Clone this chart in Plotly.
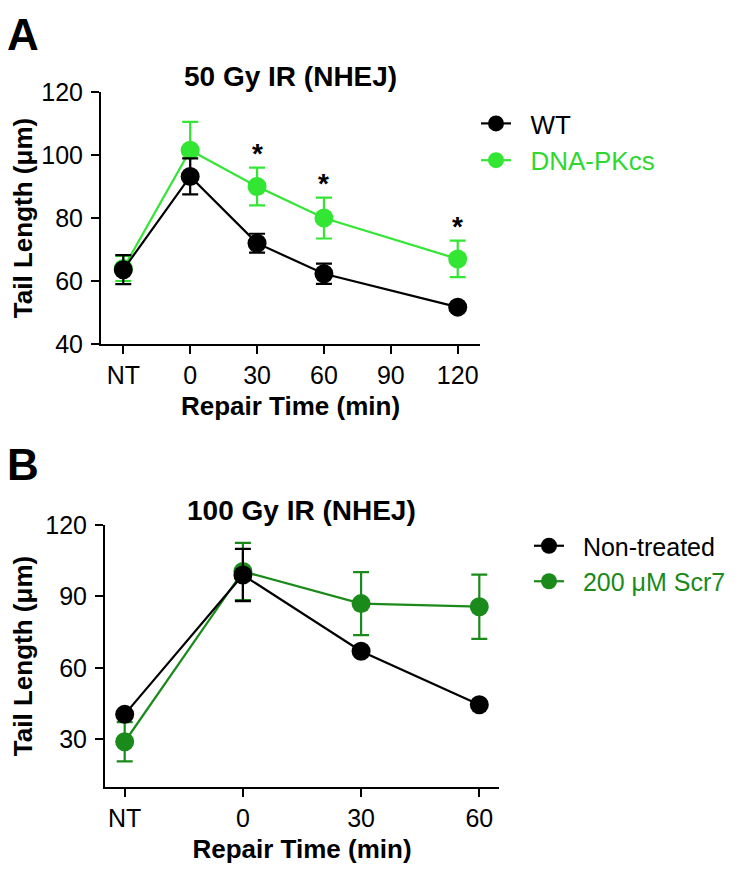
import plotly.graph_objects as go

# ---------------- data ----------------
time_a = [-30, 0, 30, 60, 120]
tickvals_a = [-30, 0, 30, 60, 90, 120]
ticktext_a = ["NT", "0", "30", "60", "90", "120"]
wt_mean = [63.6, 93.2, 72.0, 62.3, 51.7]
wt_err = [4.6, 5.7, 3.0, 3.2, 1.0]
pk_mean = [64.0, 101.5, 90.0, 80.0, 67.0]
pk_err = [4.0, 9.0, 6.0, 6.5, 5.8]
star_x = [30, 60, 120]

time_b = [-30, 0, 30, 60]
tickvals_b = [-30, 0, 30, 60]
ticktext_b = ["NT", "0", "30", "60"]
nt_mean = [40.5, 99.0, 67.0, 44.5]
nt_err = [1.0, 11.0, 1.0, 1.0]
scr_mean = [29.0, 100.5, 87.0, 85.7]
scr_err = [8.2, 12.0, 13.2, 13.5]

# ---------------- layout helpers ----------------
W, H = 750, 882
OFF = 8  # page body margin
def px(x):
    return (x - OFF) / W
def py(y):
    return 1 - (y - OFF) / H

FONT = "Arial, 'Liberation Sans', sans-serif"
BLACK = "#000000"
LIME = "#33e633"
DKGREEN = "#1a8a1a"
NB = "\u00a0\u00a0"

fig = go.Figure()

def add_series(x, y, e, color, name, xa, ya, legend, rank):
    fig.add_trace(go.Scatter(
        x=x, y=y, mode="lines+markers", name=name,
        line=dict(color=color, width=2.2),
        marker=dict(color=color, size=19),
        error_y=dict(type="data", array=e, visible=True, color=color,
                     thickness=2.2, width=8),
        xaxis=xa, yaxis=ya, legend=legend, legendrank=rank,
    ))

# green first so black is on top
add_series(time_a, pk_mean, pk_err, LIME,
           NB + '<span style="color:%s">DNA-PKcs</span>' % "#2fd82f", "x", "y", "legend", 2)
add_series(time_a, wt_mean, wt_err, BLACK, NB + "WT", "x", "y", "legend", 1)
add_series(time_b, scr_mean, scr_err, DKGREEN,
           NB + '<span style="color:%s">200 μM Scr7</span>' % DKGREEN, "x2", "y2", "legend2", 2)
add_series(time_b, nt_mean, nt_err, BLACK, NB + "Non-treated", "x2", "y2", "legend2", 1)

axis_common = dict(
    showline=True, linecolor=BLACK, linewidth=2,
    ticks="outside", ticklen=8, tickwidth=2, tickcolor=BLACK,
    showgrid=False, zeroline=False, mirror=False, automargin=False,
    tickfont=dict(family=FONT, size=25, color=BLACK),
    title_font=dict(family=FONT, size=26, color=BLACK),
)

fig.update_layout(
    width=W, height=H, autosize=False,
    margin=dict(l=0, r=0, t=0, b=0, pad=0, autoexpand=False),
    paper_bgcolor="white", plot_bgcolor="white",
    font=dict(family=FONT, color=BLACK),
    xaxis=dict(domain=[px(101), px(480)], range=[-40, 130],
               tickvals=tickvals_a, ticktext=ticktext_a, anchor="y",
               title=dict(text="<b>Repair Time (min)</b>", standoff=9), **axis_common),
    yaxis=dict(domain=[py(344), py(92)], range=[40, 120],
               tickvals=[40, 60, 80, 100, 120], anchor="x", ticklabelstandoff=3,
               title=dict(text="<b>Tail Length (μm)</b>", standoff=9), **axis_common),
    xaxis2=dict(domain=[px(105), px(499)], range=[-35, 65],
                tickvals=tickvals_b, ticktext=ticktext_b, anchor="y2",
                title=dict(text="<b>Repair Time (min)</b>", standoff=9), **axis_common),
    yaxis2=dict(domain=[py(787), py(525)], range=[10, 120],
                tickvals=[30, 60, 90, 120], anchor="x2", ticklabelstandoff=3,
                title=dict(text="<b>Tail Length (μm)</b>", standoff=9), **axis_common),
    legend=dict(x=px(476), y=py(100), xanchor="left", yanchor="top",
                font=dict(family=FONT, size=26, color=BLACK),
                bgcolor="rgba(0,0,0,0)", tracegroupgap=0, itemwidth=30),
    legend2=dict(x=px(529), y=py(523), xanchor="left", yanchor="top",
                 font=dict(family=FONT, size=25, color=BLACK),
                 bgcolor="rgba(0,0,0,0)", tracegroupgap=0, itemwidth=30),
    showlegend=True,
)

# stars above the DNA-PKcs error bars
for sx in star_x:
    i = time_a.index(sx)
    fig.add_annotation(x=sx, y=pk_mean[i] + pk_err[i], xref="x", yref="y",
                       text="<b>*</b>", showarrow=False, xanchor="center",
                       yanchor="bottom", yshift=-3,
                       font=dict(family=FONT, size=28, color=BLACK))

# panel titles and letters
def label(x, y, text, size, yanchor="middle"):
    fig.add_annotation(x=px(x), y=y, xref="paper", yref="paper",
                       text=text, showarrow=False, xanchor="center",
                       yanchor=yanchor, font=dict(family=FONT, size=size, color=BLACK))

label(290, py(77), "<b>50 Gy IR (NHEJ)</b>", 28)
label(301, py(510), "<b>100 Gy IR (NHEJ)</b>", 28)
label(23, 1.0, "<b>A</b>", 44, yanchor="top")
label(23, py(464), "<b>B</b>", 44)

fig.write_html("out.html")
